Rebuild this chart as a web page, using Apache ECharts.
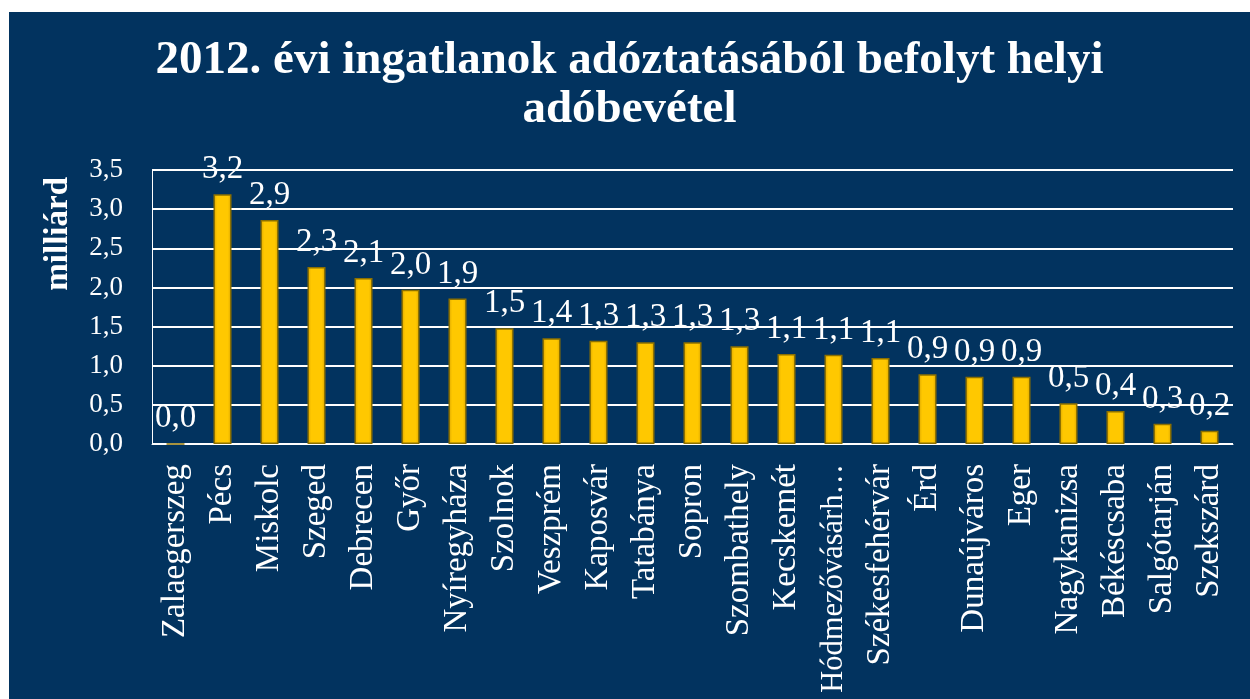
<!DOCTYPE html>
<html>
<head>
<meta charset="utf-8">
<script src="https://cdn.jsdelivr.net/npm/echarts@6/dist/echarts.min.js"></script>
<style>
  html, body { margin: 0; padding: 0; background: #ffffff; }
  #main { position: absolute; left: 9px; top: 12px; width: 1241px; height: 687px; background: #02335f; }
</style>
</head>
<body>
<div id="main"></div>
<script>
var dom = document.getElementById("main");
var myChart = echarts.init(dom);

// varosok (categories)
var cities = ['Zalaegerszeg', 'Pécs', 'Miskolc', 'Szeged', 'Debrecen', 'Győr', 'Nyíregyháza',
  'Szolnok', 'Veszprém', 'Kaposvár', 'Tatabánya', 'Sopron', 'Szombathely', 'Kecskemét',
  'Hódmezővásárhely', 'Székesfehérvár', 'Érd', 'Dunaújváros', 'Eger', 'Nagykanizsa',
  'Békéscsaba', 'Salgótarján', 'Szekszárd'];

// helyi adobevetel, milliard Ft
var revenue = [0.0, 3.19, 2.86, 2.26, 2.12, 1.97, 1.86, 1.48, 1.35, 1.32, 1.30, 1.30,
  1.25, 1.15, 1.14, 1.10, 0.89, 0.86, 0.86, 0.52, 0.42, 0.26, 0.17];

var titleLines = ['2012. évi ingatlanok adóztatásából befolyt helyi', 'adóbevétel'];
var yName = 'milliárd';

var serif = '"Liberation Serif", "Times New Roman", serif';
function hu(v) { return v.toFixed(1).replace('.', ','); }
// long names are cut like in the original
function shortName(s) { return s.length > 15 ? '{s|' + s.slice(0, 13) + '…}' : s; }

var option = {
  backgroundColor: '#02335f',
  title: {
    text: titleLines.join('\n'),
    left: 'center',
    top: 19,
    textStyle: { color: '#ffffff', fontFamily: serif, fontWeight: 'bold', fontSize: 47, lineHeight: 49 }
  },
  graphic: [{
    type: 'text',
    left: 33,
    top: 165,
    rotation: Math.PI / 2,
    style: { text: yName, fill: '#ffffff', font: 'bold 33px ' + serif }
  }],
  grid: { left: 143, right: 17, top: 158, bottom: 255, outerBoundsMode: 'none' },
  xAxis: {
    type: 'category',
    data: cities,
    axisLine: { lineStyle: { color: '#ffffff', width: 1 } },
    axisTick: { show: false },
    axisLabel: {
      rotate: 90, interval: 0, color: '#ffffff', fontFamily: serif, fontSize: 33, margin: 20,
      formatter: shortName,
      rich: { s: { color: '#ffffff', fontFamily: serif, fontSize: 30.5 } }
    }
  },
  yAxis: {
    type: 'value',
    min: 0, max: 3.5, interval: 0.5,
    axisLine: { show: true, lineStyle: { color: '#ffffff', width: 1 } },
    axisTick: { show: false },
    splitLine: { lineStyle: { color: '#ffffff', width: 2 } },
    axisLabel: { color: '#ffffff', fontFamily: serif, fontSize: 27, margin: 29, formatter: hu }
  },
  series: [{
    type: 'bar',
    data: revenue,
    barWidth: 18,
    itemStyle: {
      color: new echarts.graphic.LinearGradient(0, 0, 1, 0, [
        { offset: 0, color: '#d9a400' },
        { offset: 0.2, color: '#ffc800' },
        { offset: 0.8, color: '#ffc800' },
        { offset: 1, color: '#d9a400' }
      ]),
      borderColor: '#8c7000',
      borderWidth: 1.5
    },
    label: {
      show: true, position: 'top', distance: 8,
      color: '#ffffff', fontFamily: serif, fontSize: 33,
      formatter: function (p) { return hu(p.value); }
    }
  }]
};
myChart.setOption(option);
</script>
</body>
</html>
